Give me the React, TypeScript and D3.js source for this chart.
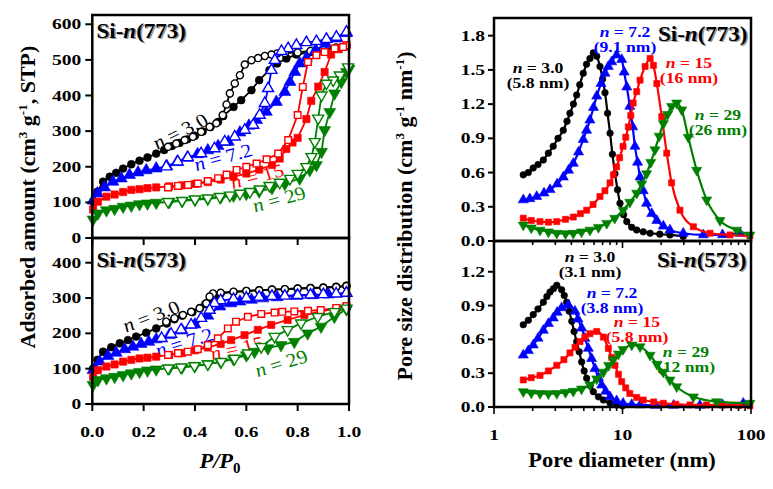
import React from 'react';
import * as d3 from 'd3';

type Pt = [number, number];

// ---------- Isotherms, Si-n(773) : [P/P0, adsorbed amount] ----------
const ads773_30: Pt[] = [[0.003,102],[0.02,130],[0.042,158],[0.068,172],[0.093,183],[0.12,195],[0.152,207],[0.184,217],[0.215,226],[0.249,237],[0.28,247],[0.31,258],[0.34,267],[0.37,277],[0.40,287],[0.43,299],[0.46,311],[0.49,326],[0.51,342],[0.55,368],[0.58,387],[0.62,415],[0.65,443],[0.69,471],[0.72,490],[0.756,504],[0.795,515],[0.85,522],[0.90,528],[0.95,533],[0.99,540]];
const des773_30: Pt[] = [[0.99,540],[0.95,535],[0.90,530],[0.85,525],[0.80,521],[0.75,519],[0.72,518],[0.698,515],[0.672,511],[0.646,505],[0.62,499],[0.594,487],[0.575,457],[0.555,434],[0.536,406],[0.523,375],[0.508,345],[0.483,322],[0.457,312],[0.424,298],[0.392,284],[0.36,275],[0.327,265],[0.295,256]];
const ads773_72: Pt[] = [[0.003,105],[0.02,125],[0.048,142],[0.08,158],[0.113,167],[0.145,177],[0.178,184],[0.21,190],[0.249,195],[0.29,202],[0.33,213],[0.37,225],[0.41,235],[0.45,246],[0.49,258],[0.53,270],[0.575,296],[0.61,315],[0.64,331],[0.678,354],[0.717,382],[0.75,410],[0.77,438],[0.789,466],[0.808,490],[0.834,505],[0.87,528],[0.91,545],[0.95,560],[0.99,575]];
const des773_72: Pt[] = [[0.99,578],[0.951,564],[0.912,558],[0.873,552],[0.834,549],[0.795,541],[0.763,532],[0.737,524],[0.711,499],[0.698,471],[0.685,420],[0.672,378],[0.652,345],[0.627,317],[0.594,303],[0.555,284],[0.516,270],[0.476,251],[0.424,237],[0.372,226],[0.333,214],[0.288,200]];
const ads773_15: Pt[] = [[0.003,80],[0.022,102],[0.055,116],[0.087,122],[0.12,129],[0.152,135],[0.184,137],[0.215,140],[0.249,142],[0.3,145],[0.35,148],[0.4,152],[0.45,157],[0.5,164],[0.55,172],[0.6,181],[0.65,192],[0.7,205],[0.73,223],[0.756,250],[0.78,268],[0.80,281],[0.834,334],[0.853,385],[0.88,425],[0.905,466],[0.93,515],[0.96,530],[0.99,541]];
const des773_15: Pt[] = [[0.99,541],[0.977,536],[0.944,532],[0.905,522],[0.873,513],[0.84,494],[0.82,424],[0.80,345],[0.763,275],[0.724,237],[0.679,221],[0.64,209],[0.60,200],[0.562,191],[0.523,178],[0.49,168],[0.45,160],[0.411,153],[0.373,149],[0.334,146],[0.295,142]];
const ads773_29: Pt[] = [[0.003,52],[0.022,69],[0.055,78],[0.087,82],[0.12,88],[0.152,91],[0.184,95],[0.215,97],[0.249,99],[0.3,101],[0.35,104],[0.4,107],[0.45,110],[0.5,114],[0.55,119],[0.6,124],[0.65,131],[0.7,140],[0.75,152],[0.808,167],[0.847,191],[0.873,205],[0.893,242],[0.905,303],[0.925,354],[0.944,406],[0.97,438],[0.99,466],[1.0,475]];
const des773_29: Pt[] = [[0.996,480],[0.964,457],[0.938,443],[0.912,434],[0.893,401],[0.88,336],[0.867,270],[0.854,228],[0.834,200],[0.80,181],[0.77,167],[0.73,156],[0.69,147],[0.652,137],[0.614,130],[0.575,125],[0.536,120],[0.497,116],[0.45,112],[0.4,109],[0.35,105],[0.295,102]];

// ---------- Isotherms, Si-n(573) ----------
const ads573_30: Pt[] = [[0.003,100],[0.02,125],[0.042,148],[0.074,161],[0.107,172],[0.139,181],[0.171,191],[0.21,202],[0.249,214],[0.29,228],[0.32,240],[0.35,250],[0.39,260],[0.42,272],[0.44,283],[0.46,297],[0.48,308],[0.5,313],[0.55,317],[0.6,320],[0.65,322],[0.7,324],[0.75,325],[0.8,327],[0.85,329],[0.9,330],[0.95,332],[0.99,335]];
const des573_30: Pt[] = [[0.99,334],[0.95,331],[0.9,329],[0.85,328],[0.8,327],[0.75,325],[0.7,324],[0.65,322],[0.6,320],[0.55,318],[0.5,315],[0.47,313],[0.457,304],[0.444,285],[0.418,271],[0.385,261],[0.353,252],[0.32,243],[0.288,233]];
const ads573_72: Pt[] = [[0.003,96],[0.029,120],[0.061,136],[0.093,145],[0.126,155],[0.158,162],[0.19,170],[0.22,176],[0.249,183],[0.3,195],[0.35,208],[0.4,225],[0.45,250],[0.497,276],[0.54,285],[0.575,290],[0.62,295],[0.665,299],[0.72,302],[0.795,306],[0.86,308],[0.92,310],[0.99,314]];
const des573_72: Pt[] = [[0.99,314],[0.95,312],[0.9,310],[0.85,309],[0.8,308],[0.75,306],[0.7,305],[0.65,303],[0.6,300],[0.55,297],[0.5,293],[0.476,285],[0.457,266],[0.424,243],[0.385,224],[0.346,210],[0.307,198],[0.27,186]];
const ads573_15: Pt[] = [[0.003,77],[0.022,96],[0.055,106],[0.087,112],[0.12,120],[0.152,125],[0.184,129],[0.215,131],[0.249,134],[0.3,139],[0.35,144],[0.4,152],[0.45,160],[0.5,170],[0.541,181],[0.593,195],[0.645,210],[0.697,224],[0.761,238],[0.826,252],[0.89,262],[0.95,270],[0.99,277]];
const des573_15: Pt[] = [[0.99,277],[0.95,272],[0.89,266],[0.84,264],[0.787,262],[0.74,261],[0.71,259],[0.658,255],[0.606,247],[0.56,233],[0.528,214],[0.489,186],[0.45,167],[0.411,155],[0.372,148],[0.334,144],[0.295,139]];
const ads573_29: Pt[] = [[0.003,54],[0.022,68],[0.055,73],[0.087,77],[0.12,82],[0.152,87],[0.184,91],[0.215,95],[0.249,98],[0.3,101],[0.35,104],[0.4,108],[0.45,113],[0.5,119],[0.55,127],[0.6,138],[0.632,148],[0.684,158],[0.735,167],[0.787,176],[0.839,200],[0.891,219],[0.943,247],[0.99,268]];
const des573_29: Pt[] = [[0.99,271],[0.943,261],[0.878,247],[0.813,229],[0.761,210],[0.71,191],[0.658,162],[0.606,144],[0.554,129],[0.502,120],[0.45,113],[0.398,108],[0.346,104],[0.295,101]];

// ---------- Pore size distributions : [diameter nm, dV/dD] ----------
const psd773_30: Pt[] = [[1.69,0.58],[1.85,0.6],[2.02,0.64],[2.2,0.67],[2.42,0.71],[2.65,0.77],[2.89,0.83],[3.15,0.9],[3.46,0.97],[3.7,1.05],[3.9,1.12],[4.15,1.2],[4.4,1.28],[4.65,1.37],[4.95,1.47],[5.25,1.55],[5.58,1.6],[5.93,1.65],[6.3,1.62],[6.68,1.53],[7.0,1.42],[7.31,1.3],[7.65,1.12],[8.0,0.945],[8.35,0.76],[8.74,0.59],[9.15,0.45],[9.56,0.33],[10.2,0.23],[10.8,0.17],[11.8,0.12],[12.9,0.096],[14.5,0.08],[16.4,0.068],[19.5,0.06],[23.4,0.053],[29.7,0.04]];
const psd773_72: Pt[] = [[1.69,0.36],[1.9,0.37],[2.15,0.39],[2.45,0.42],[2.73,0.45],[3.1,0.5],[3.46,0.56],[3.8,0.62],[4.14,0.68],[4.55,0.78],[4.95,0.89],[5.25,0.97],[5.58,1.06],[5.95,1.17],[6.3,1.27],[6.8,1.38],[7.31,1.47],[7.75,1.53],[8.24,1.57],[9.0,1.63],[9.86,1.59],[10.3,1.48],[10.8,1.35],[11.4,1.18],[12.0,1.0],[12.5,0.83],[13.1,0.69],[13.7,0.56],[14.5,0.44],[15.4,0.33],[16.9,0.24],[18.5,0.18],[20.8,0.13],[23.4,0.096],[29.7,0.068],[42.6,0.053],[60,0.055],[82,0.068]];
const psd773_15: Pt[] = [[1.69,0.2],[1.95,0.18],[2.28,0.17],[2.65,0.165],[3.08,0.17],[3.6,0.19],[4.14,0.21],[4.7,0.24],[5.26,0.27],[5.9,0.32],[6.68,0.39],[7.3,0.44],[8.0,0.51],[8.5,0.58],[9.0,0.65],[9.5,0.73],[10.1,0.83],[10.6,0.91],[11.1,1.0],[11.6,1.1],[12.1,1.21],[12.9,1.31],[13.7,1.41],[15.0,1.53],[16.4,1.6],[17.4,1.54],[18.5,1.38],[20.2,1.09],[22.1,0.77],[24.1,0.51],[28,0.27],[35.6,0.125],[48,0.068],[68.7,0.053],[98,0.045]];
const psd773_29: Pt[] = [[1.69,0.14],[1.95,0.115],[2.28,0.096],[2.65,0.08],[3.08,0.068],[3.6,0.065],[4.14,0.068],[4.8,0.08],[5.58,0.096],[6.5,0.12],[7.54,0.155],[8.7,0.2],[10.1,0.27],[11.4,0.34],[12.9,0.42],[14.1,0.5],[15.4,0.59],[16.6,0.69],[17.9,0.8],[19.3,0.92],[20.8,1.03],[22.4,1.11],[24.1,1.18],[26.4,1.21],[28.9,1.15],[32.5,0.91],[37.8,0.62],[45.2,0.36],[57.4,0.18],[77.4,0.096],[98,0.053]];
const psd573_30: Pt[] = [[1.69,0.73],[1.85,0.77],[2.02,0.82],[2.2,0.87],[2.42,0.93],[2.58,0.98],[2.73,1.02],[2.9,1.05],[3.08,1.08],[3.36,1.04],[3.52,0.99],[3.68,0.93],[3.85,0.85],[4.03,0.76],[4.2,0.67],[4.4,0.58],[4.6,0.49],[4.81,0.4],[5.03,0.32],[5.26,0.255],[5.6,0.19],[5.93,0.136],[6.5,0.09],[7.1,0.062],[8.0,0.035],[9.0,0.018],[10,0.01]];
const psd573_72: Pt[] = [[1.69,0.46],[1.85,0.5],[2.02,0.55],[2.2,0.61],[2.42,0.68],[2.65,0.74],[2.89,0.79],[3.1,0.84],[3.36,0.88],[3.79,0.905],[4.27,0.85],[4.5,0.78],[4.81,0.7],[5.1,0.61],[5.42,0.52],[5.75,0.43],[6.11,0.34],[6.5,0.26],[6.89,0.195],[7.4,0.14],[8.0,0.09],[9.0,0.055],[10.1,0.033],[11.8,0.022],[13.7,0.018],[18,0.015],[25,0.015],[40,0.015],[60,0.02],[87,0.033]];
const psd573_15: Pt[] = [[1.69,0.24],[1.95,0.26],[2.28,0.28],[2.65,0.32],[3.08,0.37],[3.5,0.42],[3.9,0.48],[4.27,0.53],[4.67,0.58],[5.1,0.62],[5.58,0.65],[6.3,0.67],[7.1,0.62],[7.76,0.52],[8.24,0.44],[8.74,0.37],[9.3,0.29],[9.86,0.225],[10.6,0.17],[11.4,0.12],[12.9,0.085],[14.5,0.062],[17.5,0.045],[20.8,0.033],[26,0.025],[33.5,0.018],[45,0.018],[60,0.018],[80,0.014],[98,0.01]];
const psd573_29: Pt[] = [[1.69,0.136],[1.95,0.125],[2.28,0.12],[2.65,0.118],[3.08,0.12],[3.6,0.13],[4.14,0.14],[4.8,0.16],[5.58,0.195],[6.3,0.25],[7.1,0.31],[7.8,0.37],[8.49,0.42],[9.3,0.47],[10.1,0.51],[11.8,0.55],[13.7,0.535],[16.4,0.46],[18.5,0.38],[20.8,0.31],[23.4,0.24],[26.4,0.18],[35.6,0.09],[54,0.047],[98,0.033]];

// ---------- tick labels ----------
const isoXTicks = [0, 0.2, 0.4, 0.6, 0.8, 1.0];
const isoTopYTicks = [0, 100, 200, 300, 400, 500, 600];
const isoBotYTicks = [0, 100, 200, 300, 400];
const psdTopYTicks = [0, 0.3, 0.6, 0.9, 1.2, 1.5, 1.8];
const psdBotYTicks = [0, 0.3, 0.6, 0.9, 1.2];
const psdXMajor = [1, 10, 100];

const seriesColors = ['#000000', '#0000ff', '#ff0000', '#008000'];
const seriesShapes = ['circle', 'up', 'square', 'down'];

const FONT = '"Liberation Serif","Times New Roman",Times,serif';

const xIso = d3.scaleLinear().domain([0, 1]).range([92.3, 349]);
const yIsoTop = d3.scaleLinear().domain([0, 626]).range([238, 15]);
const yIsoBot = d3.scaleLinear().domain([0, 470]).range([404, 238]);
const xPsd = d3.scaleLog().domain([1, 100]).range([494, 751]);
const yPsdTop = d3.scaleLinear().domain([0, 1.955]).range([241, 18]);
const yPsdBot = d3.scaleLinear().domain([0, 1.473]).range([407, 241]);

function symPath(shape: string, size: number) {
  const type = shape === 'circle' ? d3.symbolCircle : shape === 'square' ? d3.symbolSquare : d3.symbolTriangle;
  return d3.symbol().type(type).size(size)() as string;
}

function Markers({ data, xs, ys, shape, color, filled, size }: any) {
  const base = shape === 'circle' ? size : shape === 'square' ? size * 1.1 : size * 1.3;
  const p = symPath(shape, base);
  return (
    <g>
      {data.map((d: Pt, i: number) => (
        <path key={i} d={p}
          transform={`translate(${xs(d[0])},${ys(d[1])})${shape === 'down' ? ' rotate(180)' : ''}`}
          fill={filled ? color : '#fff'} stroke={color} strokeWidth={filled ? 0.6 : 1.4} />
      ))}
    </g>
  );
}

function Line({ data, xs, ys, color, curve, width }: any) {
  const g = d3.line<Pt>().x(d => xs(d[0])).y(d => ys(d[1])).curve(curve || d3.curveLinear);
  return <path d={g(data) as string} fill="none" stroke={color} strokeWidth={width} strokeLinejoin="round" />;
}

function T({ x, y, sx = 1, rot = 0, anchor = 'middle', size, weight = 'bold', italic = false, fill = '#000', dy, children }: any) {
  return (
    <text transform={`translate(${x},${y}) scale(${sx},1)${rot ? ` rotate(${rot})` : ''}`}
      textAnchor={anchor} fontSize={size} fontWeight={weight} fontStyle={italic ? 'italic' : 'normal'}
      fill={fill} fontFamily={FONT} dy={dy}>{children}</text>
  );
}

function PanelLabel({ x, y, anchor, num }: any) {
  const content = (fill: string) => (
    <T x={x} y={y} size={20} sx={1.15} anchor={anchor} fill={fill}>
      Si-<tspan fontStyle="italic">n</tspan>({num})
    </T>
  );
  return <g>{content('#9a9a9a')}<g transform="translate(-1.5,-1.5)">{content('#000')}</g></g>;
}

function NLabel({ x, y, rot, color, name }: any) {
  return (
    <T x={x} y={y} rot={rot} size={19} sx={1.12} weight="normal" fill={color} dy="0.35em">
      <tspan fontStyle="italic">n</tspan> = {name}
    </T>
  );
}

function Ann({ x, y, color, name, peak }: any) {
  return (
    <g>
      <T x={x} y={y} size={14} sx={1.26} fill={color}><tspan fontStyle="italic">n</tspan> = {name}</T>
      <T x={x} y={y + 15} size={14} sx={1.26} fill={color}>({peak} nm)</T>
    </g>
  );
}

export default function App() {
  const iso773 = [[ads773_30, des773_30], [ads773_72, des773_72], [ads773_15, des773_15], [ads773_29, des773_29]];
  const iso573 = [[ads573_30, des573_30], [ads573_72, des573_72], [ads573_15, des573_15], [ads573_29, des573_29]];
  const psd773 = [psd773_30, psd773_72, psd773_15, psd773_29];
  const psd573 = [psd573_30, psd573_72, psd573_15, psd573_29];

  const isoPanel = (sets: Pt[][][], ys: any) => (
    <g>
      {sets.map((s, i) => (
        <g key={i}>
          <Line data={s[0]} xs={xIso} ys={ys} color={seriesColors[i]} width={1.8} />
          <Markers data={s[0]} xs={xIso} ys={ys} shape={seriesShapes[i]} color={seriesColors[i]} filled size={48} />
          <Line data={s[1]} xs={xIso} ys={ys} color={seriesColors[i]} width={1.8} />
          <Markers data={s[1]} xs={xIso} ys={ys} shape={seriesShapes[i]} color={seriesColors[i]} filled={false} size={40} />
        </g>
      ))}
    </g>
  );

  const psdPanel = (sets: Pt[][], ys: any) => (
    <g>
      {sets.map((s, i) => (
        <g key={i}>
          <Line data={s} xs={xPsd} ys={ys} color={seriesColors[i]} width={2.2} curve={d3.curveMonotoneX} />
          <Markers data={s} xs={xPsd} ys={ys} shape={seriesShapes[i]} color={seriesColors[i]} filled size={34} />
        </g>
      ))}
    </g>
  );

  const [ix0, ix1] = xIso.range();
  const [px0, px1] = xPsd.range();
  const allPsdTicks = xPsd.ticks();

  return (
    <svg width={773} height={489} style={{ position: 'absolute', left: 0, top: 0, background: '#fff' }}>
      <rect x={0} y={0} width={773} height={489} fill="#fff" />

      {/* rotated n labels (left panels) */}
      <NLabel x={180} y={131} rot={-29} color="#000" name="3.0" />
      <NLabel x={223} y={157} rot={-17} color="#0000ff" name="7.2" />
      <NLabel x={257} y={176} rot={-16} color="#ff0000" name="15" />
      <NLabel x={279} y={199} rot={-17} color="#008000" name="29" />
      <NLabel x={151} y={316} rot={-23} color="#000" name="3.0" />
      <NLabel x={184} y={342} rot={-19} color="#0000ff" name="7.2" />
      <NLabel x={237} y={348} rot={-14} color="#ff0000" name="15" />
      <NLabel x={281} y={363} rot={-19} color="#008000" name="29" />

      {isoPanel(iso773 as any, yIsoTop)}
      {isoPanel(iso573 as any, yIsoBot)}
      {psdPanel(psd773, yPsdTop)}
      {psdPanel(psd573, yPsdBot)}

      {/* frames */}
      <rect x={ix0} y={yIsoTop.range()[1]} width={ix1 - ix0} height={238 - yIsoTop.range()[1]} fill="none" stroke="#000" strokeWidth={2.5} />
      <rect x={ix0} y={238} width={ix1 - ix0} height={404 - 238} fill="none" stroke="#000" strokeWidth={2.5} />
      <rect x={px0} y={yPsdTop.range()[1]} width={px1 - px0} height={241 - yPsdTop.range()[1]} fill="none" stroke="#000" strokeWidth={2.5} />
      <rect x={px0} y={241} width={px1 - px0} height={407 - 241} fill="none" stroke="#000" strokeWidth={2.5} />

      {/* left y ticks */}
      {isoTopYTicks.map(t => (
        <g key={'lt' + t}>
          <line x1={ix0 - 7} x2={ix0} y1={yIsoTop(t)} y2={yIsoTop(t)} stroke="#000" strokeWidth={2} />
          <T x={ix0 - 11} y={yIsoTop(t) + 5} size={15} sx={1.3} anchor="end">{t}</T>
        </g>
      ))}
      {isoBotYTicks.map(t => (
        <g key={'lb' + t}>
          <line x1={ix0 - 7} x2={ix0} y1={yIsoBot(t)} y2={yIsoBot(t)} stroke="#000" strokeWidth={2} />
          <T x={ix0 - 11} y={yIsoBot(t) + 5} size={15} sx={1.3} anchor="end">{t}</T>
        </g>
      ))}
      {/* left x ticks */}
      {isoXTicks.map(t => (
        <g key={'lx' + t}>
          <line x1={xIso(t)} x2={xIso(t)} y1={238} y2={245} stroke="#000" strokeWidth={2} />
          <line x1={xIso(t)} x2={xIso(t)} y1={404} y2={411} stroke="#000" strokeWidth={2} />
          <T x={xIso(t)} y={437} size={15} sx={1.3}>{t.toFixed(1)}</T>
        </g>
      ))}

      {/* right y ticks */}
      {psdTopYTicks.map(t => (
        <g key={'rt' + t}>
          <line x1={px0 - 6} x2={px0} y1={yPsdTop(t)} y2={yPsdTop(t)} stroke="#000" strokeWidth={2} />
          <T x={px0 - 9} y={yPsdTop(t) + 5} size={15} sx={1.3} anchor="end">{t.toFixed(1)}</T>
        </g>
      ))}
      {psdBotYTicks.map(t => (
        <g key={'rb' + t}>
          <line x1={px0 - 6} x2={px0} y1={yPsdBot(t)} y2={yPsdBot(t)} stroke="#000" strokeWidth={2} />
          <T x={px0 - 9} y={yPsdBot(t) + 5} size={15} sx={1.3} anchor="end">{t.toFixed(1)}</T>
        </g>
      ))}
      {/* right x ticks */}
      {allPsdTicks.map((t, i) => {
        const major = psdXMajor.includes(t);
        const len = major ? 7 : 4;
        return (
          <g key={'rx' + i}>
            <line x1={xPsd(t)} x2={xPsd(t)} y1={241} y2={241 + len} stroke="#000" strokeWidth={1.6} />
            <line x1={xPsd(t)} x2={xPsd(t)} y1={407} y2={407 + len} stroke="#000" strokeWidth={1.6} />
          </g>
        );
      })}
      {psdXMajor.map(t => (
        <T key={'rxl' + t} x={xPsd(t)} y={440} size={15} sx={1.3}>{t}</T>
      ))}

      {/* panel labels */}
      <PanelLabel x={98} y={39} anchor="start" num="773" />
      <PanelLabel x={98} y={268} anchor="start" num="573" />
      <PanelLabel x={749} y={42} anchor="end" num="773" />
      <PanelLabel x={748} y={268} anchor="end" num="573" />

      {/* PSD annotations */}
      <Ann x={538} y={73} color="#000" name="3.0" peak="5.8" />
      <Ann x={625} y={37} color="#0000ff" name="7.2" peak="9.1" />
      <Ann x={689} y={68} color="#ff0000" name="15" peak="16" />
      <Ann x={718} y={120} color="#008000" name="29" peak="26" />
      <Ann x={590} y={262} color="#000" name="3.0" peak="3.1" />
      <Ann x={612} y={298} color="#0000ff" name="7.2" peak="3.8" />
      <Ann x={637} y={327} color="#ff0000" name="15" peak="5.8" />
      <Ann x={686} y={357} color="#008000" name="29" peak="12" />

      {/* axis titles */}
      <T x={35} y={197} rot={-90} size={22}>
        Adsorbed amount (cm<tspan dy={-8} fontSize={13}>3</tspan><tspan dy={8}> g</tspan><tspan dy={-8} fontSize={13}>-1</tspan><tspan dy={8}>, STP)</tspan>
      </T>
      <T x={412} y={216} rot={-90} size={22}>
        Pore size distribution (cm<tspan dy={-8} fontSize={13}>3</tspan><tspan dy={8}> g</tspan><tspan dy={-8} fontSize={13}>-1</tspan><tspan dy={8}> nm</tspan><tspan dy={-8} fontSize={13}>-1</tspan><tspan dy={8}>)</tspan>
      </T>
      <T x={220} y={468} size={21} sx={1.07} italic>
        P/P<tspan dy={5} fontSize={14} fontStyle="normal">0</tspan>
      </T>
      <T x={622} y={467} size={21} sx={1.07}>Pore diameter (nm)</T>
    </svg>
  );
}
